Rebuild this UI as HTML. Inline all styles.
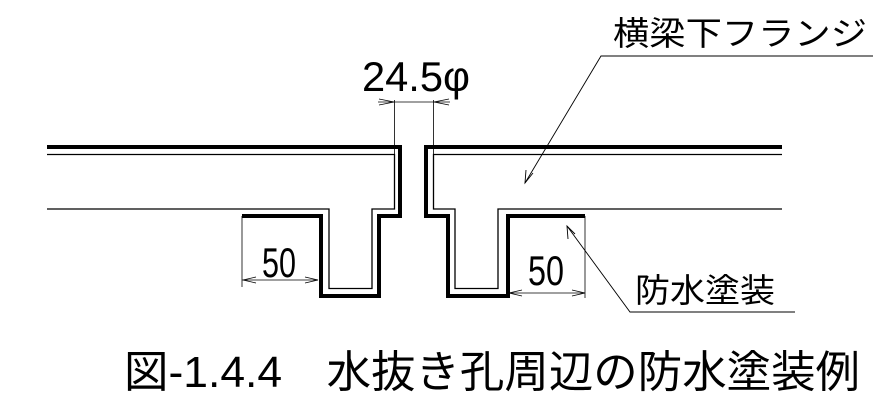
<!DOCTYPE html>
<html><head><meta charset="utf-8"><style>
body{margin:0;background:#fff}
svg{display:block}
text{font-family:"Liberation Sans","Noto Sans CJK JP",sans-serif;fill:#000}
</style></head><body>
<svg width="888" height="408" viewBox="0 0 888 408" xmlns="http://www.w3.org/2000/svg">
<g fill="none" stroke="#000">
<path d="M47 147 H400 V216 H379 V296 H321 V216 H242" stroke-width="4"/>
<path d="M782 147 H426 V216 H448 V296 H508 V216 H585" stroke-width="4"/>
<path d="M47 154.5 H394.5 V209 H372 V288.5 H329 V209 H47" stroke-width="1.3"/>
<path d="M782 154.5 H433.5 V209 H455 V288.5 H498 V209 H782" stroke-width="1.3"/>
<path d="M394.5 100 V154 M433.5 100 V154" stroke-width="0.8"/>
<path d="M378 102 H450" stroke-width="0.8"/>
<path d="M379 99 L394 102 L379 105 M449 99 L434 102 L449 105" stroke-width="0.8"/>
<path d="M242 216 V287" stroke-width="0.8"/>
<path d="M242 280 H318" stroke-width="0.8"/>
<path d="M256 277 L243 280 L256 283 M305 277 L318 280 L305 283" stroke-width="0.8"/>
<path d="M585 216 V298" stroke-width="0.8"/>
<path d="M509 293 H585" stroke-width="0.8"/>
<path d="M522 290 L509 293 L522 296 M572 290 L585 293 L572 296" stroke-width="0.8"/>
<path d="M873 56 H601 L525 183" stroke-width="0.9"/>
<path d="M526 170 L525 183 L533 173" stroke-width="0.9"/>
<path d="M795 312 H630 L567 226" stroke-width="0.9"/>
<path d="M568 239 L567 226 L575 234" stroke-width="0.9"/>
</g>
<text x="362" y="91" font-size="42" textLength="108" lengthAdjust="spacingAndGlyphs">24.5φ</text>
<text x="262" y="277" font-size="42" textLength="34" lengthAdjust="spacingAndGlyphs">50</text>
<text x="528" y="285" font-size="42" textLength="36" lengthAdjust="spacingAndGlyphs">50</text>
<text x="613" y="45" font-size="33" textLength="254" lengthAdjust="spacingAndGlyphs">横梁下フランジ</text>
<text x="635" y="302" font-size="33" textLength="140" lengthAdjust="spacingAndGlyphs">防水塗装</text>
<text x="124" y="387" font-size="44" textLength="736" lengthAdjust="spacingAndGlyphs">図-1.4.4　水抜き孔周辺の防水塗装例</text>
</svg>
</body></html>
